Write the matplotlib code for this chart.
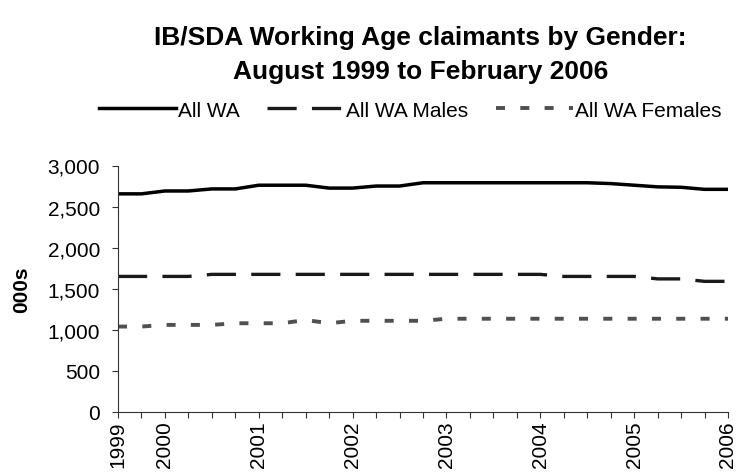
import matplotlib
matplotlib.use('Agg')
import matplotlib.pyplot as plt

# quarterly, Aug 1999 .. Feb 2006 (thousands)
quarters = ['1999', '', '2000', '', '', '', '2001', '', '', '', '2002', '', '', '',
            '2003', '', '', '', '2004', '', '', '', '2005', '', '', '', '2006']
all_wa = [2655, 2655, 2690, 2690, 2715, 2715, 2760, 2760, 2760, 2725, 2725, 2750, 2750, 2790,
          2790, 2790, 2790, 2790, 2790, 2790, 2790, 2780, 2760, 2740, 2735, 2710, 2710]
males = [1650, 1650, 1650, 1650, 1675, 1675, 1675, 1675, 1675, 1675, 1675, 1675, 1675, 1675,
         1675, 1675, 1675, 1675, 1675, 1650, 1650, 1650, 1650, 1620, 1620, 1590, 1590]
females = [1040, 1040, 1060, 1060, 1060, 1080, 1080, 1080, 1120, 1080, 1110, 1110, 1110, 1110,
           1135, 1135, 1135, 1135, 1135, 1135, 1135, 1135, 1135, 1135, 1135, 1135, 1135]

plt.rcParams['font.family'] = ['Liberation Sans', 'DejaVu Sans']
plt.rcParams['lines.scale_dashes'] = False

fig = plt.figure(figsize=(7.38, 4.77), dpi=100)
ax = fig.add_axes([118 / 738, 1 - 413 / 477, 610 / 738, 246.5 / 477])

x = range(len(quarters))
ax.plot(x, all_wa, color='black', lw=2.5, solid_joinstyle='round', label='All WA')
ax.plot(x, males, color='#1a1a1a', lw=2.4, ls=(0, (21, 11)), dash_capstyle='butt', label='All WA Males')
ax.plot(x, females, color='#505050', lw=2.8, ls=(0, (6.5, 11)), dash_capstyle='butt', label='All WA Females')

ax.set_xlim(0, len(quarters) - 1)
ax.set_ylim(0, 3000)
ax.set_yticks(range(0, 3001, 500))
ax.set_yticklabels([f'{v:,}' for v in range(0, 3001, 500)], fontsize=15)
ax.set_xticks(list(x))
ax.set_xticklabels(quarters, rotation=90, fontsize=15)
ax.tick_params(axis='both', direction='out', length=4, width=0.8, color='#333333')
ax.tick_params(axis='y', pad=9)
ax.tick_params(axis='x', pad=2)
for side in ['top', 'right']:
    ax.spines[side].set_visible(False)
for side in ['left', 'bottom']:
    ax.spines[side].set_color('#333333')
    ax.spines[side].set_linewidth(0.8)

ax.set_ylabel('000s', fontsize=15, fontweight='bold', labelpad=12)

fig.text(0.57, 0.885, 'IB/SDA Working Age claimants by Gender:\nAugust 1999 to February 2006',
         ha='center', va='center', fontsize=19, fontweight='bold', linespacing=1.5)

fig.legend(loc='center', bbox_to_anchor=(0.556, 0.767), ncol=3, frameon=False, fontsize=15,
           handlelength=3.7, handletextpad=0.1, columnspacing=1.3)

fig.savefig('out.png', dpi=100)
